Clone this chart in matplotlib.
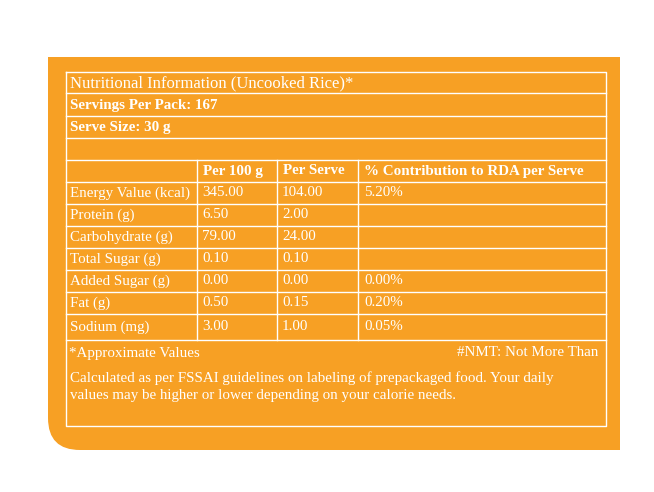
import matplotlib.pyplot as plt
from matplotlib.patches import PathPatch
from matplotlib.path import Path

plt.rcParams['font.family'] = ['Liberation Serif', 'DejaVu Serif']

ORANGE = '#F7A024'
title = "Nutritional Information (Uncooked Rice)*"
servings = "Servings Per Pack: 167"
serve_size = "Serve Size: 30 g"
headers = ["Per 100 g", "Per Serve", "% Contribution to RDA per Serve"]
nutrients = ["Energy Value (kcal)", "Protein (g)", "Carbohydrate (g)", "Total Sugar (g)",
             "Added Sugar (g)", "Fat (g)", "Sodium (mg)"]
per_100g = ["345.00", "6.50", "79.00", "0.10", "0.00", "0.50", "3.00"]
per_serve = ["104.00", "2.00", "24.00", "0.10", "0.00", "0.15", "1.00"]
rda = ["5.20%", "", "", "", "0.00%", "0.20%", "0.05%"]
note_left = "*Approximate Values"
note_right = "#NMT: Not More Than"
footnote = ("Calculated as per FSSAI guidelines on labeling of prepackaged food. Your daily\n"
            "values may be higher or lower depending on your calorie needs.")

fig = plt.figure(figsize=(6.54, 4.92), dpi=100)
ax = fig.add_axes([0, 0, 1, 1])
ax.set_xlim(0, 654)
ax.set_ylim(492, 0)
ax.axis('off')

# orange card with rounded bottom-left corner
x0, x1, y0, y1, r = 48, 620, 57, 450, 32
verts = [(x0, y0), (x1, y0), (x1, y1), (x0 + r, y1), (x0, y1), (x0, y1 - r), (x0, y0)]
codes = [Path.MOVETO, Path.LINETO, Path.LINETO, Path.LINETO, Path.CURVE3, Path.CURVE3, Path.CLOSEPOLY]
ax.add_patch(PathPatch(Path(verts, codes), facecolor=ORANGE, edgecolor='none'))

L, R, T, B = 66, 606, 72, 426
lw = 1.0
ax.plot([L, R, R, L, L], [T, T, B, B, T], color='white', lw=lw)
rows = [93, 116, 138, 160, 182, 204, 226, 248, 270, 292, 314, 340]
for y in rows:
    ax.plot([L, R], [y, y], color='white', lw=lw)
cols = [197, 277, 358]
for x in cols:
    ax.plot([x, x], [160, 340], color='white', lw=lw)

fs = 10.8
tk = dict(color='white', fontsize=fs, va='center')
ax.text(L + 4, 83, title, color='white', fontsize=12, va='center')
ax.text(L + 4, 105, servings, fontweight='bold', **tk)
ax.text(L + 4, 127, serve_size, fontweight='bold', **tk)
for x, h in zip(cols, headers):
    ax.text(x + 6, 171, h, fontweight='bold', **tk)
starts = rows[4:]
for i, name in enumerate(nutrients):
    yc = (starts[i] + starts[i + 1]) / 2
    ax.text(L + 4, yc, name, **tk)
    ax.text(cols[0] + 5, yc, per_100g[i], **tk)
    ax.text(cols[1] + 5, yc, per_serve[i], **tk)
    ax.text(cols[2] + 6, yc, rda[i], **tk)
ax.text(L + 3, 353, note_left, **tk)
ax.text(R - 8, 353, note_right, ha='right', **tk)
ax.text(L + 4, 387, footnote, color='white', fontsize=fs, va='center', linespacing=1.4)

fig.savefig('out.png', dpi=100)
